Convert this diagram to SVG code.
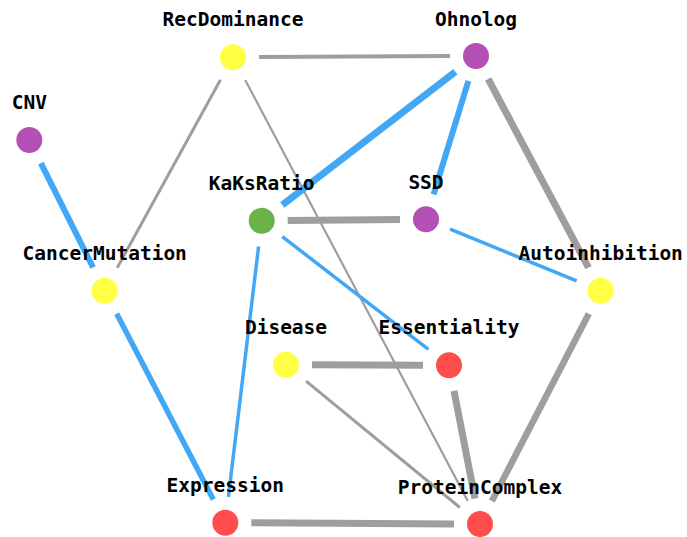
<svg xmlns="http://www.w3.org/2000/svg" width="687" height="537" viewBox="0 0 687 537">
<style>
.e{fill:none;stroke-linecap:butt}
.g{stroke:#9e9e9e}
.b{stroke:#42a7f5}
.n text{font-family:"DejaVu Sans Mono",monospace;font-weight:bold;font-size:19.5px;text-anchor:middle;fill:#000}
.y{fill:#ffff44}.p{fill:#b44fb5}.gr{fill:#6ab34a}.r{fill:#ff4d4d}
</style>
<rect width="687" height="537" fill="#fff"/>
<g id="edges">
<line class="e g" x1="259" y1="56.9" x2="450" y2="56.1" stroke-width="4"/>
<line class="e g" x1="220.5" y1="79.8" x2="117.2" y2="267.9" stroke-width="3"/>
<line class="e g" x1="245.2" y1="80" x2="467.8" y2="501" stroke-width="2.2"/>
<line class="e b" x1="455.4" y1="71.8" x2="282.3" y2="204.9" stroke-width="7"/>
<line class="e b" x1="468.4" y1="80.9" x2="433.6" y2="194.4" stroke-width="6"/>
<line class="e g" x1="488.2" y1="79" x2="588.5" y2="267.7" stroke-width="7"/>
<line class="e b" x1="40.9" y1="163.2" x2="93.1" y2="267.5" stroke-width="6"/>
<line class="e g" x1="287.7" y1="220.5" x2="400" y2="219.5" stroke-width="7"/>
<line class="e b" x1="282.3" y1="236.6" x2="428.4" y2="349.4" stroke-width="3.5"/>
<line class="e b" x1="258.6" y1="246.5" x2="228.4" y2="496.9" stroke-width="3.5"/>
<line class="e b" x1="450.1" y1="229.1" x2="576.6" y2="280.9" stroke-width="3.5"/>
<line class="e b" x1="116.7" y1="313.8" x2="213.3" y2="499.6" stroke-width="5.5"/>
<line class="e g" x1="588.8" y1="313.8" x2="491.9" y2="500.9" stroke-width="6.5"/>
<line class="e g" x1="312" y1="364.8" x2="423" y2="365.2" stroke-width="7"/>
<line class="e g" x1="306.1" y1="381.2" x2="459.9" y2="507.5" stroke-width="3"/>
<line class="e g" x1="454" y1="390.8" x2="475" y2="498.5" stroke-width="7"/>
<line class="e g" x1="251.3" y1="522.8" x2="454" y2="523.9" stroke-width="7"/>
</g>
<g id="RecDominance" class="n"><circle class="y" cx="233" cy="57.3" r="13"/><text x="233" y="26">RecDominance</text></g>
<g id="Ohnolog" class="n"><circle class="p" cx="476" cy="56" r="13"/><text x="476" y="26">Ohnolog</text></g>
<g id="CNV" class="n"><circle class="p" cx="29.3" cy="140" r="13"/><text x="29.3" y="109">CNV</text></g>
<g id="KaKsRatio" class="n"><circle class="gr" cx="261.7" cy="220.7" r="13"/><text x="261.7" y="189.5">KaKsRatio</text></g>
<g id="SSD" class="n"><circle class="p" cx="426" cy="219.3" r="13"/><text x="426" y="189">SSD</text></g>
<g id="CancerMutation" class="n"><circle class="y" cx="104.7" cy="290.7" r="13"/><text x="104.7" y="260">CancerMutation</text></g>
<g id="Autoinhibition" class="n"><circle class="y" cx="600.7" cy="290.7" r="13"/><text x="600.7" y="260">Autoinhibition</text></g>
<g id="Disease" class="n"><circle class="y" cx="286" cy="364.7" r="13"/><text x="286" y="334">Disease</text></g>
<g id="Essentiality" class="n"><circle class="r" cx="449" cy="365.3" r="13"/><text x="449" y="334">Essentiality</text></g>
<g id="Expression" class="n"><circle class="r" cx="225.3" cy="522.7" r="13"/><text x="225.3" y="491.7">Expression</text></g>
<g id="ProteinComplex" class="n"><circle class="r" cx="480" cy="524" r="13"/><text x="480" y="494">ProteinComplex</text></g>
</svg>
